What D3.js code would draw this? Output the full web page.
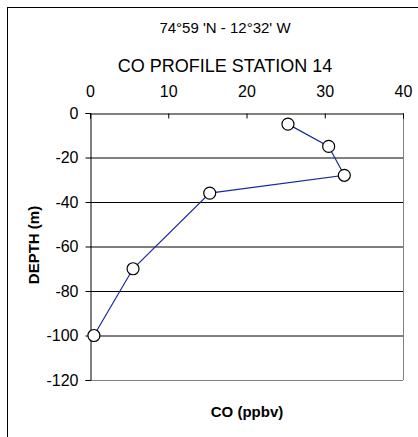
<!DOCTYPE html>
<html><head><meta charset="utf-8">
<script src="https://cdn.jsdelivr.net/npm/d3@7"></script>
<style>body{margin:0;background:#fff;}svg{display:block;font-family:"Liberation Sans",Arial,sans-serif;}</style>
</head><body>
<script>
const coValues = [25.3, 30.5, 32.5, 15.3, 5.5, 0.5];
const depthValues = [-5, -15, -28, -36, -70, -100];
const xTicks = [0, 10, 20, 30, 40];
const yTicks = [0, -20, -40, -60, -80, -100, -120];
const subtitle = "74°59 'N - 12°32' W";
const title = "CO PROFILE STATION 14";
const xLabel = "CO (ppbv)";
const yLabel = "DEPTH (m)";

const W = 418, H = 437;
const svg = d3.select("body").append("svg").attr("width", W).attr("height", H);
svg.append("rect").attr("width", W).attr("height", H).attr("fill", "#fff");
svg.append("rect").attr("x", 7.5).attr("y", 7.5).attr("width", 420).attr("height", 440)
  .attr("fill", "none").attr("stroke", "#000").attr("stroke-width", 1);

const L = 90, R = 403, T = 113, B = 380;
const x = d3.scaleLinear().domain([0, 40]).range([L, R]);
const y = d3.scaleLinear().domain([0, -120]).range([T, B]);

// gridlines
svg.append("g").selectAll("line").data(yTicks.filter(d => d !== 0 && d !== -120)).join("line")
  .attr("x1", L).attr("x2", R).attr("y1", d => y(d) + 0.5).attr("y2", d => y(d) + 0.5)
  .attr("stroke", "#000").attr("stroke-width", 1);
// plot border right/bottom gray
svg.append("line").attr("x1", R + 0.5).attr("x2", R + 0.5).attr("y1", T).attr("y2", B).attr("stroke", "#808080");
svg.append("line").attr("x1", L).attr("x2", R).attr("y1", B + 0.5).attr("y2", B + 0.5).attr("stroke", "#808080");

// top axis
const xa = svg.append("g").attr("transform", `translate(0,${T + 0.5})`)
  .call(d3.axisTop(x).tickValues(xTicks).tickSize(-5).tickPadding(17).tickFormat(d3.format("d")));
xa.select(".domain").attr("stroke", "#000");
xa.selectAll("text").attr("font-size", 16).attr("fill", "#000");

// left axis
const ya = svg.append("g").attr("transform", `translate(${L + 0.5},0)`)
  .call(d3.axisLeft(y).tickValues(yTicks).tickSize(5).tickPadding(7).tickFormat(d3.format("d")));
ya.select(".domain").attr("stroke", "#000");
ya.selectAll("text").attr("font-size", 16).attr("fill", "#000").text(d => d < 0 ? "-" + Math.abs(d) : d);

// line
const pts = coValues.map((c, i) => [c, depthValues[i]]);
svg.append("path").datum(pts)
  .attr("d", d3.line().x(d => x(d[0])).y(d => y(d[1])))
  .attr("fill", "none").attr("stroke", "#1a2a9a").attr("stroke-width", 1.2);
svg.append("g").selectAll("circle").data(pts).join("circle")
  .attr("cx", d => x(d[0])).attr("cy", d => y(d[1])).attr("r", 6)
  .attr("fill", "#fff").attr("stroke", "#000").attr("stroke-width", 1.2);

// titles
svg.append("text").attr("x", 225).attr("y", 33).attr("text-anchor", "middle")
  .attr("font-size", 15).text(subtitle);
svg.append("text").attr("x", 225).attr("y", 72).attr("text-anchor", "middle")
  .attr("font-size", 18).text(title);
svg.append("text").attr("x", 247).attr("y", 417).attr("text-anchor", "middle")
  .attr("font-size", 15).attr("font-weight", "bold").text(xLabel);
svg.append("text").attr("transform", "translate(39,245) rotate(-90)").attr("text-anchor", "middle")
  .attr("font-size", 15).attr("font-weight", "bold").text(yLabel);
</script>
</body></html>
